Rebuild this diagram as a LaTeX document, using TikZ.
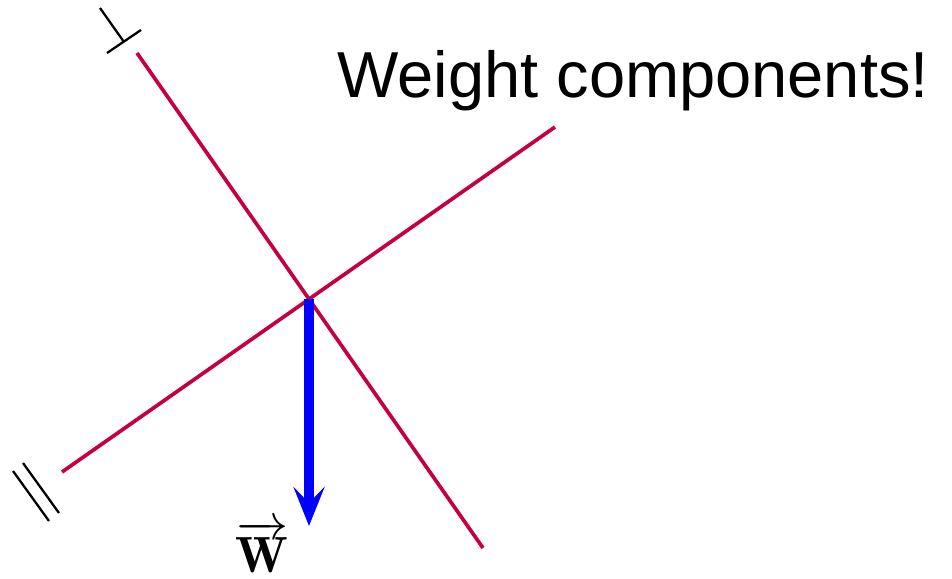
\documentclass[tikz,border=0pt]{standalone}
\usepackage{fix-cm}
\usepackage{fontspec}
\newfontfamily\arialfont{Liberation Sans}
\usetikzlibrary{arrows.meta}

\begin{document}
\begin{tikzpicture}[x=0.02cm, y=-0.02cm, line cap=butt]
  \definecolor{axisred}{RGB}{196,0,66}
  \definecolor{weightblue}{RGB}{0,0,255}
  \tikzset{
    axisline/.style={axisred, line width=2.1pt},
    marker/.style={black, line width=1.3pt},
    weight/.style={weightblue, line width=0.2cm,
      -{Stealth[length=0.78cm, width=0.62cm, inset=0.32cm]}},
  }
  \useasboundingbox (0,0) rectangle (952,578);

  % ---- the tilted axes ------------------------------------------------------
  \coordinate (perpTop) at (137,53);
  \coordinate (perpBot) at (483,548);
  \coordinate (parLeft) at (62,472);
  \coordinate (parRight) at (555,127);
  \coordinate (origin) at (309,299);
  \draw[axisline] (perpTop) -- (perpBot);
  \draw[axisline] (parLeft) -- (parRight);

  % ---- axis markers: perpendicular and parallel -----------------------------
  \draw[marker] (100,8) -- (124,42);
  \draw[marker] (107,53) -- (141,30);
  \draw[marker] (13,471) -- (49,521);
  \draw[marker] (23,463) -- (59,513);

  % ---- weight vector --------------------------------------------------------
  \coordinate (wTip) at (309,526);
  \draw[weight] (origin) -- (wTip);
  \node[inner sep=0pt] (wLabel) at (262,547)
    {\fontsize{29}{34}\selectfont$\overrightarrow{\mathbf{W}}$};

  % ---- title ----------------------------------------------------------------
  \node[anchor=base west, inner sep=0pt] (title) at (337,97)
    {\arialfont\fontsize{37}{44}\selectfont Weight components!};
\end{tikzpicture}
\end{document}
